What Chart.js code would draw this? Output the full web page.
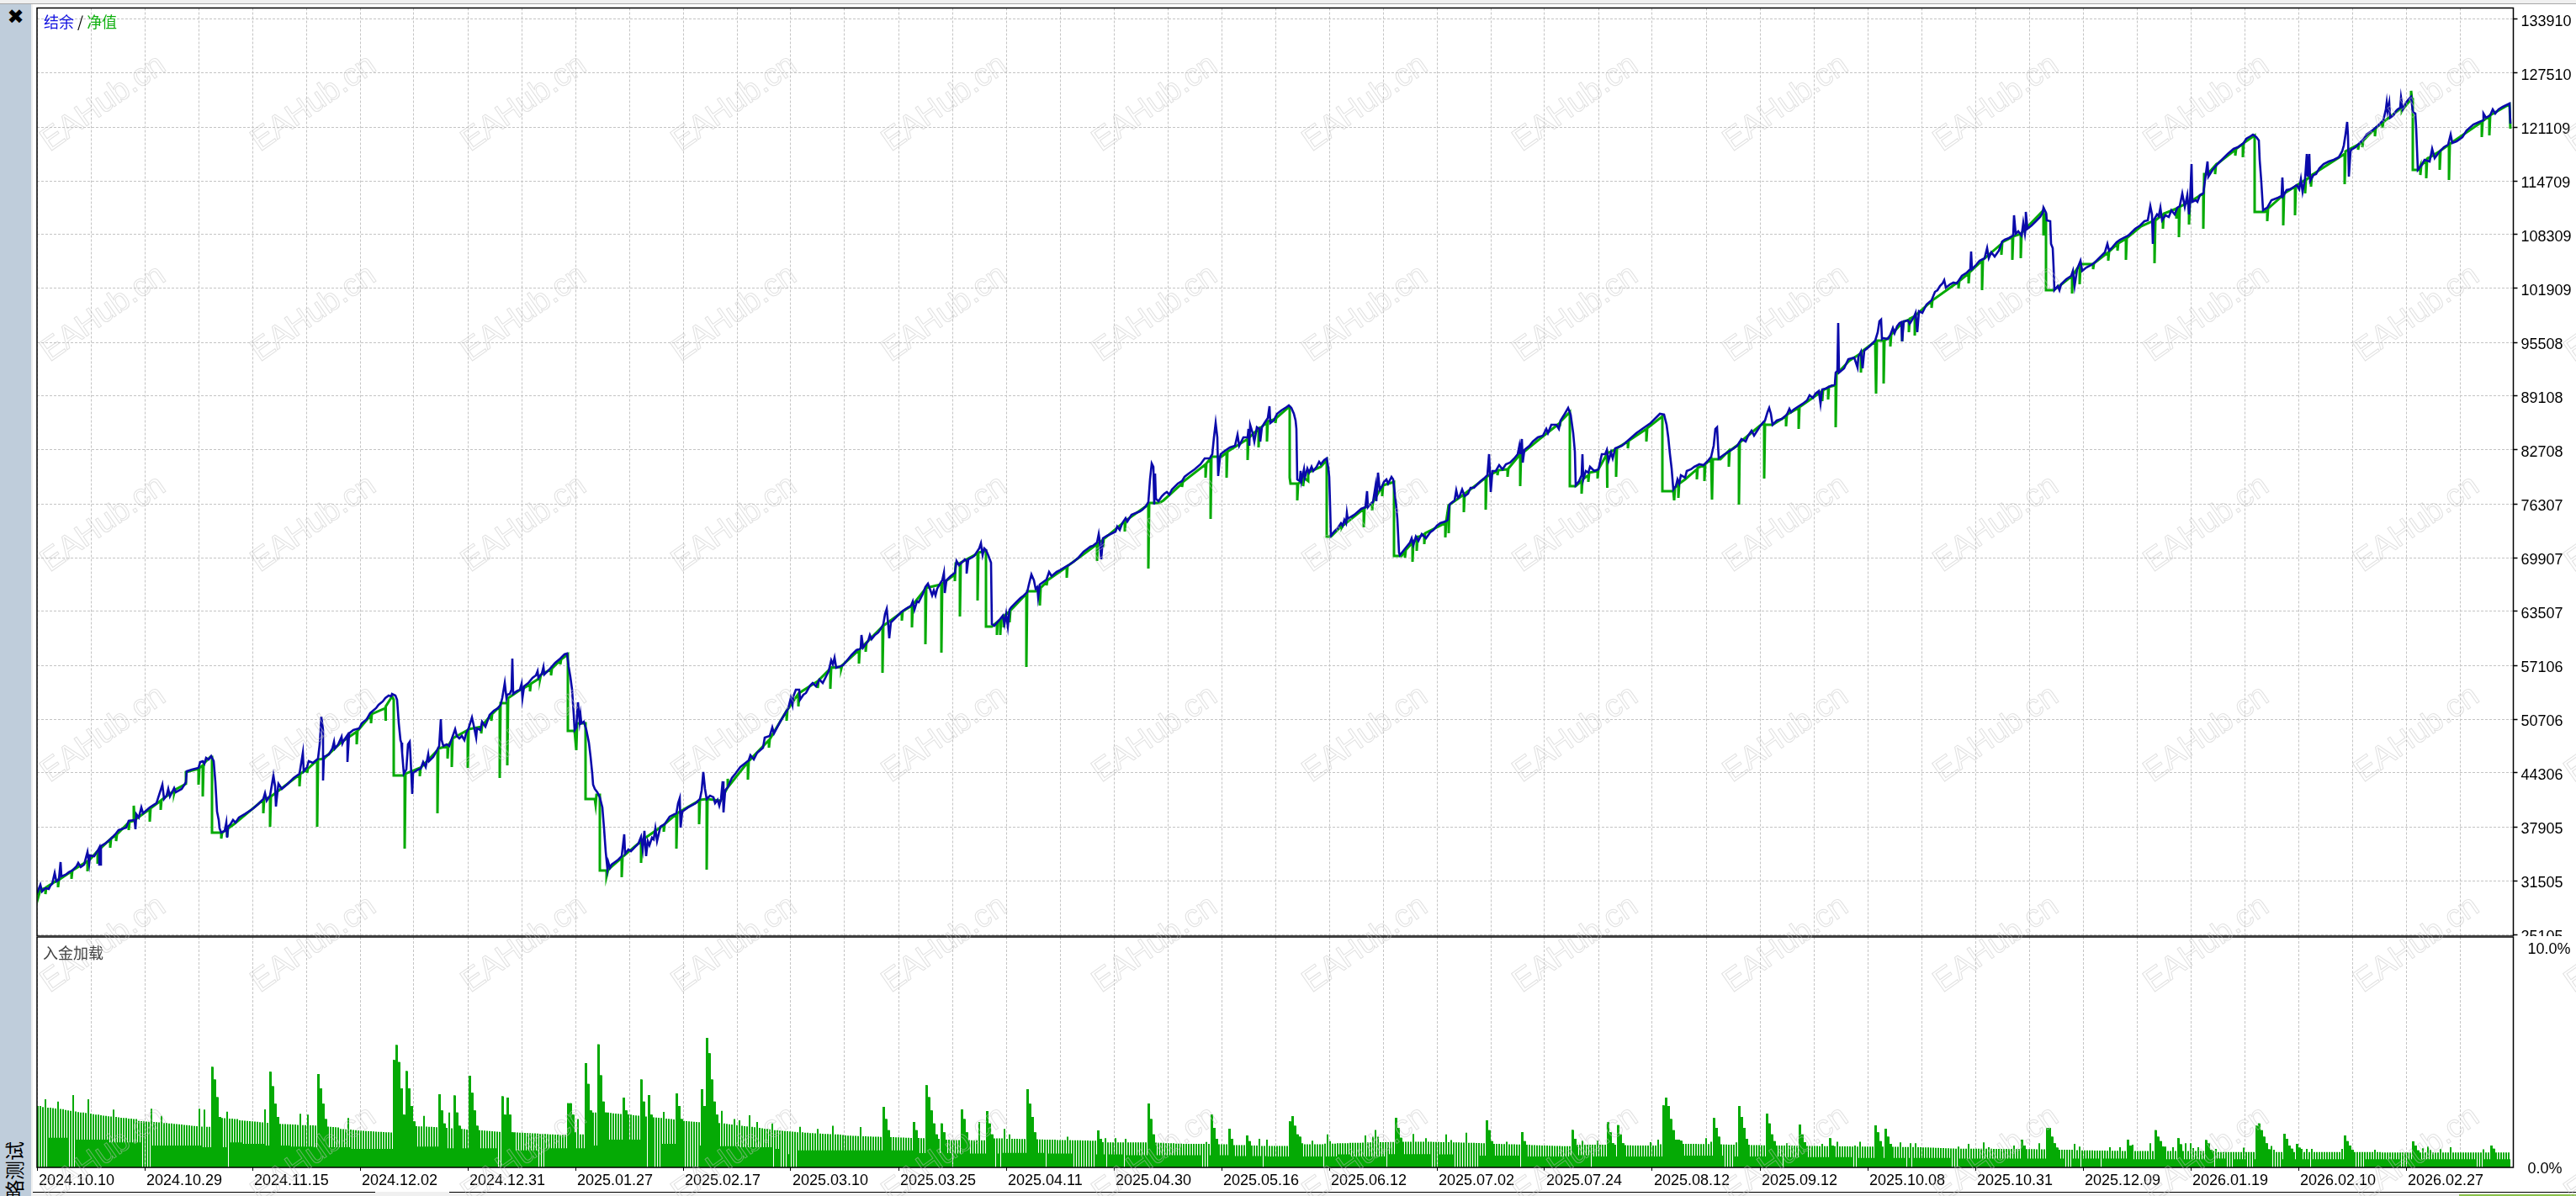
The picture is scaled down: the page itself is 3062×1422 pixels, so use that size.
<!DOCTYPE html>
<html>
<head>
<meta charset="utf-8">
<script src="https://cdn.jsdelivr.net/npm/chart.js@4/dist/chart.umd.min.js"></script>
<style>
html,body{margin:0;padding:0;background:#fff;width:3062px;height:1422px;overflow:hidden}
canvas{position:absolute;left:0}
#mainChart{top:0}
#loadChart{top:1113px}
.chrome{position:absolute;z-index:5}
.label{position:absolute;z-index:6;font:18px "Noto Sans CJK SC";white-space:nowrap;line-height:20px}
</style>
</head>
<body>
<div class="chrome" style="left:0;top:0;width:3062px;height:4px;background:#f0f0f0"></div>
<div class="chrome" style="left:0;top:4px;width:3062px;height:1px;background:#a8a8a8"></div>
<div class="chrome" style="left:0;top:5px;width:37px;height:1417px;background:#bfcddb;overflow:hidden">
  <div style="position:absolute;left:0;top:0;width:37px;text-align:center;font:bold 24px 'DejaVu Sans';line-height:30px">✖</div>
  <div style="position:absolute;left:-44px;top:1395px;width:120px;font:23px 'Noto Sans CJK SC';transform:rotate(-90deg);transform-origin:center;text-align:right;white-space:nowrap">策略测试</div>
</div>
<div class="chrome" style="left:37px;top:5px;width:2px;height:1417px;background:#f0f0f0"></div>
<div class="label" style="left:52px;top:15px"><span style="color:#1010e0">结余</span><span style="color:#000"> / </span><span style="color:#10b010">净值</span></div>
<div class="label" style="left:51px;top:1122px;color:#444">入金加载</div>
<canvas id="mainChart" width="3062" height="1125"></canvas>
<canvas id="loadChart" width="3062" height="309"></canvas>
<script>
// axis labels
const dateLabels = ['2024.10.10','2024.10.29','2024.11.15','2024.12.02','2024.12.31','2025.01.27','2025.02.17','2025.03.10','2025.03.25','2025.04.11','2025.04.30','2025.05.16','2025.06.12','2025.07.02','2025.07.24','2025.08.12','2025.09.12','2025.10.08','2025.10.31','2025.12.09','2026.01.19','2026.02.10','2026.02.27'];
const priceTicks = [133910,127510,121109,114709,108309,101909,95508,89108,82708,76307,69907,63507,57106,50706,44306,37905,31505,25105];
const loadTicks = [0,10];

// balance curve as [deal position, value]
const balancePoints = [
[44,30010],[48,31010],[50,30210],[54,30610],[58,30510],[60,30910],[62,31110],[65,32410],[67,31410],[70,31610],[72,33710],[73,32010],[78,32210],[82,32510],[86,32710],[91,33210],[93,33610],[96,33110],[100,33410],[104,34910],[106,33510],[107,34510],[112,34410],[117,35210],[118,35410],[118,33410],[120,33410],[120,35610],
[125,35910],[132,36510],[137,37010],[141,37510],[150,37810],[153,38610],[160,38710],[161,37610],[162,39410],[165,39010],[168,40210],[170,39510],[178,40210],[186,40710],[193,42910],[195,41210],[198,41610],[200,42410],[202,41510],[207,42510],[209,42010],[216,42410],[221,43210],[222,44510],[228,44710],[236,44910],[238,45610],[241,45710],[243,45410],[245,46110],[248,45910],[251,46310],
[254,45710],[256,43210],[258,39710],[260,38710],[261,37710],[263,37210],[267,37410],[269,38410],[270,36610],[271,37910],[274,38210],[277,38710],[280,38410],[284,39010],[291,39410],[300,40010],[307,40610],[313,41210],[315,41910],[317,41010],[321,41610],[325,44010],[327,42710],[328,40310],[330,42210],[331,43010],[335,42410],[342,43010],[349,43710],[356,44210],[360,46710],[361,44510],[365,45010],[367,45710],[372,45510],[378,46010],[380,47710],[382,50990],[384,49410],[384,43410],[385,46210],[391,46510],[395,47210],[397,48010],[398,47210],[402,47710],[406,48610],[407,47810],[409,48210],[413,48810],[413,45610],[415,49010],[420,49410],[427,49610],[430,50210],[436,50710],[440,51410],[447,52010],[450,52410],[455,52810],[458,53210],[462,53510],[465,53410],[466,53710],[470,53510],[472,53010],[474,50210],[476,48210],[477,47910],[478,46710],[480,44210],[483,44710],[485,47710],[487,48010],[488,46210],[490,41810],[491,44310],[497,44710],[500,44810],[503,45610],[506,45010],[509,46510],[510,45710],[515,46210],[519,46910],[522,47510],[524,50710],[525,48210],[527,47510],[531,47710],[534,47510],[541,49510],[543,48710],[546,48410],[549,48710],[552,48210],[554,49010],[557,49610],[561,50910],[563,50010],[566,48510],[567,49610],[571,49410],[573,50410],[577,49810],[582,51210],[587,51710],[592,52010],[595,52410],[597,53210],[600,55010],[602,53210],[603,53610],[606,53710],[608,54210],[609,57910],[610,53710],[614,54010],[618,54210],[620,54910],[621,53210],[623,54610],[628,55010],[633,55610],[637,55910],[639,56410],[640,55610],[644,56110],[646,56910],[647,56010],[654,56710],[660,57410],[666,57910],[671,58410],[674,58510],[676,56910],[678,55710],[680,54210],[682,51210],[683,49410],[685,49710],[686,51210],[687,52710],[689,50410],[690,51210],[691,50210],[694,50410],[697,49410],[700,47910],[702,46210],[704,44210],[705,42910],[707,42410],[710,42010],[713,41410],[716,40210],[718,37710],[720,34910],[722,32910],[723,33710],[725,33010],[727,33410],[731,33710],[735,34010],[739,34410],[742,37010],[743,34710],[747,35210],[750,35010],[755,35510],[759,35910],
[760,36210],[762,36710],[764,35210],[766,37410],[768,34410],[770,36210],[772,35710],[775,36610],[777,36410],[779,37710],[781,36210],[785,37910],[790,38210],[796,39110],[804,39510],[806,40710],[808,41310],[809,37810],[811,39710],[818,40210],[827,40710],[832,41210],[834,42210],[836,44410],[838,42410],[840,41210],[844,41610],[848,41410],[850,40710],[853,41110],[855,40410],[857,41210],[859,43310],[860,39610],[862,42210],[865,42610],[870,43710],[874,44210],[880,45010],[885,45410],[890,45810],[892,46410],[896,45910],[900,46710],[907,47310],[909,48510],[915,48710],[918,49710],[920,49010],[928,50510],[937,52010],[940,53210],[942,52410],[943,53410],[946,54210],[950,54210],[951,53010],[955,53610],[958,53810],[963,54710],[966,55010],[970,54610],[974,55410],[978,55010],[983,56010],[985,56410],[988,57710],[990,57210],[992,58010],[994,56810],[1002,57110],[1007,57710],[1012,58310],[1018,58910],[1023,59110],[1024,60710],[1026,59210],[1032,60010],[1034,60710],[1036,60210],[1040,60710],[1044,61010],[1048,61610],[1050,62010],[1052,63210],[1054,63810],[1056,61710],[1057,60310],[1059,62210],[1064,62710],[1071,63410],[1075,63710],[1080,64010],[1083,64210],[1085,64710],[1087,63710],[1090,64710],[1092,64610],[1097,65610],[1100,66410],[1103,66810],[1106,66010],[1108,65410],[1110,66010],[1112,65410],[1114,66210],[1118,66910],[1120,67210],[1122,68110],[1123,65710],[1125,67210],[1130,67710],[1135,68110],[1137,69510],[1140,69010],[1144,69410],[1147,69710],[1149,69510],[1149,68010],[1151,69710],[1155,69910],[1158,70110],[1162,70710],[1164,71010],[1166,71610],[1168,70210],[1170,71010],[1172,70810],[1175,70110],[1178,69310],
[1179,62010],[1182,61810],[1188,62510],[1192,63010],[1194,62010],[1196,63210],[1198,61710],[1200,63710],[1202,64010],[1208,64610],[1213,65110],[1217,65410],[1221,65810],[1223,66710],[1226,67910],[1229,67210],[1231,66210],[1233,66410],[1234,65210],[1236,66710],[1240,67010],[1244,67310],[1247,68210],[1250,67710],[1256,68210],[1260,68410],[1265,68710],[1270,69010],[1276,69410],[1282,69910],[1288,70610],[1292,70910],[1296,71210],[1299,71310],[1304,71710],[1306,72710],[1307,72010],[1309,69710],[1311,72210],[1316,72510],[1320,72710],[1326,73010],[1328,73610],[1331,73210],[1334,74010],[1338,74610],[1340,74210],[1345,75010],[1350,75210],[1355,75410],[1358,75610],[1362,76010],[1365,76510],[1367,79210],[1369,81110],[1371,80710],[1372,76210],[1373,79910],[1374,76910],[1377,76610],[1381,77210],[1384,77510],[1387,77710],[1390,77410],[1393,78010],[1400,78710],[1405,79010],[1408,79510],[1413,79910],[1420,80410],[1427,81010],[1432,81710],[1438,81710],[1441,82210],[1443,84210],[1445,85910],[1447,84210],[1448,79610],[1450,81710],[1451,82210],[1456,82610],[1462,83010],[1468,83210],[1471,84510],[1473,83210],[1478,84210],[1483,84210],[1484,85210],[1485,83210],[1486,85710],[1489,84710],[1491,83710],[1494,85410],[1497,85210],[1498,83710],[1500,85410],[1503,85910],[1507,86510],[1509,87910],[1510,85910],[1514,86210],[1518,87010],[1523,87410],[1528,87710],[1532,88010],[1535,87710],[1538,87010],[1540,86210],[1541,85210],[1542,79210],[1545,79010],[1546,80210],[1547,79010],[1550,80410],[1551,79410],[1554,80510],[1556,80010],[1559,80710],[1561,80210],[1565,80710],[1568,81310],[1570,81010],[1574,81510],[1577,81710],[1579,80510],[1580,79510],[1581,76210],[1582,72510],[1586,73010],[1590,73410],[1594,74010],[1596,73710],[1598,74410],[1600,74010],[1601,75210],[1602,74510],[1610,75010],[1618,75710],[1623,75910],[1625,77810],[1626,75910],[1630,76410],[1632,76510],[1635,78410],[1636,76610],[1638,80010],[1640,78010],[1643,78410],[1645,78910],[1648,79210],[1650,78710],[1654,79510],[1656,79210],[1658,77510],[1660,75710],[1661,74510],[1663,70510],[1664,70210],[1668,70710],[1672,71210],[1676,71710],[1678,72210],[1680,71410],[1683,72410],[1686,71910],[1690,72710],[1695,72210],[1700,72910],[1704,73210],[1708,73710],[1712,74010],[1718,74210],[1721,74410],[1723,76210],[1725,76410],[1729,76710],[1731,77910],[1733,77010],[1735,77210],[1738,78010],[1741,77210],[1745,77510],[1748,78210],[1752,78210],[1756,78610],[1760,79010],[1765,79410],[1768,79710],[1770,82210],[1771,80010],[1772,77710],[1774,80210],[1778,80210],[1782,80910],[1786,80410],[1790,81010],[1795,81210],[1800,81710],[1804,82210],[1806,83210],[1807,82210],[1809,84010],[1810,81210],[1812,82710],[1818,83210],[1822,83710],[1828,84210],[1834,84410],[1838,85210],[1840,84710],[1844,85710],[1850,85710],[1853,85210],[1855,86210],[1860,87010],[1864,87710],[1867,86910],[1870,84710],[1872,82510],[1873,78510],
[1877,79010],[1880,79710],[1881,82210],[1882,79210],[1885,80210],[1888,80010],[1890,80710],[1895,80210],[1900,80410],[1904,82210],[1908,82210],[1910,82710],[1912,81410],[1915,82410],[1917,81710],[1920,82910],[1928,83210],[1936,83910],[1945,84710],[1952,85210],[1962,85910],[1968,86510],[1973,87010],[1978,86910],[1981,85710],[1983,84210],[1985,82210],[1987,80510],[1989,78010],[1992,78410],[1994,79210],[1996,78710],[1998,79710],[2003,79410],[2005,80210],[2010,80410],[2014,80710],[2018,80910],[2020,81010],[2025,80910],[2030,81410],[2034,81910],[2037,83210],[2039,85210],[2041,85410],[2043,81710],[2050,82210],[2058,82710],[2065,83210],[2070,84010],[2075,83710],[2078,84410],[2082,85010],[2085,84410],[2092,85510],[2096,86010],[2098,86210],[2101,87210],[2103,87710],[2105,87010],[2107,85710],[2112,86210],[2118,86410],[2124,86910],[2127,87610],[2129,87210],[2132,87510],[2138,87910],[2143,88210],[2148,88610],[2151,89210],[2155,88910],[2158,89410],[2162,89710],[2164,88210],[2166,89910],[2170,90010],[2176,90310],[2181,90510],[2182,91910],[2184,92110],[2185,97810],[2186,91910],[2192,92410],[2197,93510],[2204,93710],[2208,92510],[2209,93810],[2212,94410],[2214,92410],[2216,94510],[2222,95010],[2229,95710],[2232,96710],[2234,98010],[2236,98210],[2237,95910],[2238,96010],[2244,95910],[2247,96410],[2250,97210],[2252,96610],[2255,97410],[2258,97810],[2260,97910],[2261,95610],[2263,98010],[2268,98110],[2270,97710],[2275,98510],[2277,99010],[2279,96710],[2281,99210],[2285,99010],[2290,100010],[2296,100510],[2300,101510],[2303,101710],[2306,102210],[2309,102510],[2311,102910],[2313,102010],[2318,102410],[2322,102610],[2326,102510],[2332,103410],[2338,103810],[2342,104210],[2343,106310],[2344,104210],[2348,104610],[2353,105210],[2359,105510],[2362,106710],[2364,105510],[2367,106210],[2371,105710],[2376,106410],[2380,107510],[2383,107710],[2388,107910],[2393,108210],[2394,110610],[2396,108410],[2399,108710],[2403,108210],[2405,109710],[2407,108410],[2408,109210],[2408,111010],[2410,109010],[2415,109410],[2420,109910],[2425,110410],[2428,110910],[2429,111510],[2432,110910],[2433,110010],[2437,109910],[2438,107210],[2440,106710],[2441,104510],[2442,101710],[2446,102210],[2448,101710],[2450,102410],[2456,103010],[2462,103410],[2464,104010],[2466,102210],[2469,104210],[2473,105210],[2475,104010],[2480,104410],[2486,104710],[2490,105010],[2497,105710],[2502,106210],[2505,107210],[2507,106410],[2510,106710],[2516,107410],[2520,107710],[2530,108210],[2538,109010],[2544,109410],[2549,109910],[2553,110010],[2556,111710],[2558,110710],[2559,107210],[2560,110010],[2564,110710],[2566,110510],[2568,111510],[2570,110010],[2574,110610],[2578,110410],[2581,111210],[2585,110710],[2588,111510],[2591,111710],[2594,113210],[2597,111610],[2600,113010],[2602,110710],[2603,111910],[2605,116710],[2606,112210],[2610,112410],[2612,112210],[2615,113010],[2619,113210],[2622,115510],[2624,117010],[2625,115210],[2630,116010],[2636,116710],[2641,117210],[2648,117910],[2655,118510],[2660,118710],[2667,119210],[2670,119710],[2675,120010],[2678,120210],[2682,119910],[2685,119510],[2686,117210],[2688,114510],[2690,111210],[2695,111510],[2700,112410],[2708,112710],[2712,112910],[2713,115110],[2714,112910],[2718,113610],[2722,113710],[2727,114010],[2730,114210],[2733,113710],[2735,114910],[2737,113410],[2740,115010],[2742,117910],[2743,115210],[2745,117910],[2746,114710],[2750,115410],[2753,115510],[2757,116210],[2762,116710],[2768,117010],[2774,117210],[2780,117510],[2784,118210],[2786,118910],[2788,120210],[2790,121710],[2791,120010],[2792,115210],[2794,118210],[2795,118410],[2800,118710],[2805,119210],[2810,119710],[2813,120210],[2820,120710],[2826,121210],[2833,121910],[2836,123210],[2837,124010],[2838,123010],[2840,124010],[2841,122210],[2845,122510],[2848,123010],[2850,123210],[2853,123410],[2854,124610],[2856,123210],[2860,124010],[2863,124410],[2866,124710],[2868,122910],[2871,122710],[2872,121010],[2874,116010],[2878,116510],[2882,117210],[2888,117010],[2891,118510],[2894,117410],[2900,118210],[2905,118710],[2910,119010],[2913,120210],[2915,119210],[2920,119410],[2927,119910],[2932,120710],[2940,121410],[2947,121710],[2952,121910],[2952,122710],[2955,122210],[2960,122510],[2963,123210],[2966,122710],[2970,123210],[2975,123510],[2983,123910],[2984,121510]
];

// equity curve, mostly on the balance line with its drops below it
const equityPoints = [
[44,29810],[46,30210],[46,29710],[48,30410],[54,30610],[54,29910],[55,30710],[69,31610],[69,30710],[70,31610],[85,32610],[85,31710],[86,32710],[104,33810],[104,32610],[105,33810],[116,35010],[116,33510],[117,35110],[131,36410],[131,35410],[132,36510],[138,36910],[138,36210],[139,37010],[153,38410],[153,37510],[154,38510],[159,38610],[159,40410],[160,38710],[178,40010],[178,38510],[179,40110],[191,41010],[191,39910],[192,41110],[207,42210],[207,41910],[208,42310],[221,43010],[221,44410],[236,44810],[236,42910],[237,44910],[241,45210],[241,41510],[242,45410],[250,46210],[252,46210],[252,37210],[262,37210],[263,37210],[263,36510],[264,37210],[270,37610],[270,36710],[271,37710],[278,38210],[313,41110],[313,39510],[314,41210],[321,41410],[321,37910],[322,41510],[356,44110],[356,42710],[357,44210],[365,44710],[365,44310],[366,44810],[377,45810],[377,37910],[378,45910],[385,46010],[405,47900],[424,49210],[424,47710],[425,49310],[441,51210],[441,50210],[442,51310],[458,52010],[458,50510],[459,52210],[466,53410],[468,53010],[468,44010],[481,44010],[481,35310],[482,44210],[499,44910],[499,43910],[500,44910],[520,47010],[520,39510],[521,47210],[532,47510],[532,46010],[533,47610],[537,48210],[537,45010],[538,48410],[556,49410],[556,44910],[557,49510],[572,49810],[572,49010],[573,49910],[584,51210],[584,50510],[585,51310],[594,52210],[594,43710],[595,52610],[603,52610],[603,45210],[604,53210],[618,54150],[630,54810],[630,54010],[631,54910],[642,55610],[642,55510],[643,56000],[655,56610],[655,55910],[656,56710],[666,57710],[666,57210],[667,57800],[675,58410],[675,49310],[683,49310],[685,47010],[686,50210],[696,50210],[696,41210],[707,41210],[708,40510],[709,41710],[713,41710],[713,32710],[721,32710],[721,32010],[723,32810],[739,34210],[739,31910],[740,34310],
[762,36210],[762,33610],[763,36310],[789,38110],[789,37310],[790,38210],[804,39410],[804,35310],[805,39510],[831,41010],[831,38210],[832,41110],[840,41210],[840,32810],[841,41210],[856,41010],[856,40910],[865,42610],[865,43610],[866,42710],[889,45610],[889,43510],[890,45710],[914,48210],[914,47310],[915,48310],[935,51710],[935,50510],[936,51810],[949,53710],[949,52210],[950,53810],[972,55210],[972,54410],[973,55310],[987,56710],[987,54310],[988,56810],[1000,56910],[1000,56710],[1001,57100],[1021,58910],[1021,57310],[1022,59010],[1029,59710],[1029,58710],[1030,59810],[1049,61710],[1049,56210],[1050,61810],[1072,63410],[1072,62410],[1073,63510],[1084,64210],[1084,61610],[1085,64310],[1100,66210],[1100,59610],[1101,66310],[1118,66710],[1119,66710],[1119,58610],[1120,66810],[1135,67910],[1135,67110],[1136,69210],[1141,69210],[1141,62910],[1142,69310],[1162,70410],[1162,64810],[1163,70510],[1172,70710],[1172,61710],[1179,61710],[1185,62210],[1185,60710],[1186,62310],[1189,62510],[1189,60710],[1190,62610],[1193,62910],[1193,61610],[1194,63010],[1200,63510],[1200,62210],[1201,63610],[1220,65610],[1220,56910],[1221,65910],[1231,65910],[1236,66210],[1236,64210],[1237,66310],[1244,67010],[1244,66610],[1245,67210],[1268,68810],[1268,67510],[1269,68910],[1304,71510],[1304,69510],[1305,71610],[1311,72010],[1311,71110],[1312,72110],[1337,74210],[1337,73010],[1338,74310],[1365,76210],[1365,68610],[1366,76410],[1378,76410],[1383,76710],
[1405,78710],[1405,78310],[1406,78900],[1433,81010],[1433,79410],[1434,81110],[1439,81710],[1439,74510],[1440,81910],[1452,81910],[1458,82410],[1458,79410],[1459,82510],[1483,84010],[1483,81510],[1484,84110],[1496,85210],[1496,83010],[1497,85210],[1506,86010],[1506,83710],[1507,86110],[1516,86410],[1516,85910],[1517,86500],[1532,87810],[1533,87810],[1533,79410],[1534,78710],[1542,78710],[1542,76710],[1543,78710],[1549,79010],[1549,78410],[1550,79400],[1555,79010],[1555,80010],[1570,80710],[1577,81510],[1577,72410],[1582,72410],[1595,73710],[1595,73510],[1596,73700],[1621,75710],[1621,73510],[1622,75810],[1631,76410],[1631,75510],[1632,76510],[1643,78410],[1643,77210],[1644,78510],[1657,78910],[1657,70110],[1666,70110],[1670,70710],[1670,69910],[1671,70810],[1679,71710],[1679,69410],[1680,71710],[1684,72210],[1684,70710],[1685,72300],[1693,72710],[1693,71510],[1694,72810],[1718,74010],[1718,72310],[1719,74210],[1722,76210],[1722,72810],[1723,76210],[1740,77410],[1740,75310],[1741,77510],[1766,79410],[1766,75610],[1767,79510],[1780,80210],[1780,79710],[1781,80300],[1792,80410],[1792,79510],[1793,80510],[1807,82210],[1807,78410],[1808,82210],[1830,84000],[1854,85910],[1854,85510],[1855,86100],[1866,87210],[1866,78410],[1873,78410],[1880,79010],[1880,77510],[1881,79210],[1888,79710],[1888,78910],[1889,80000],[1899,80210],[1899,79310],[1900,80410],[1910,82210],[1910,78210],[1911,82310],[1921,82810],[1921,79510],[1922,82910],[1935,83710],[1935,82910],[1936,83810],[1957,85210],[1957,83710],[1958,85310],[1976,86710],[1976,77810],[1989,77810],[1990,78010],[1990,76710],[1991,78210],[1995,78710],[1995,77010],[1996,78700],[2003,79210],[2017,80410],[2017,79210],[2018,80610],[2026,80910],[2026,79010],[2027,81010],[2034,81610],[2035,76810],[2036,81610],[2045,81610],[2055,82610],[2055,80710],[2056,82610],[2067,83410],[2067,76210],[2068,83610],[2097,86010],[2097,79310],[2098,85710],[2107,85710],[2123,86710],[2123,85510],[2124,86910],[2138,87710],[2138,85210],[2139,87810],[2166,89710],[2166,88510],[2167,89810],[2173,90110],[2173,88710],[2174,90210],[2182,90410],[2182,85410],[2183,91710],[2198,93300],[2212,94210],[2212,91910],[2213,94410],[2229,95610],[2230,89410],[2231,95710],[2239,95710],[2239,90610],[2240,95710],[2247,96210],[2247,95010],[2248,96410],[2261,97810],[2261,95610],[2262,97910],[2269,98210],[2269,96710],[2270,98310],[2276,98610],[2276,96310],[2277,98710],[2296,100410],[2296,99610],[2297,100500],[2328,102710],[2328,101910],[2329,102810],[2340,103710],[2340,102510],[2341,103810],[2356,105210],[2356,101710],[2357,105310],[2379,107210],[2379,105910],[2380,107410],[2392,108010],[2392,105310],[2393,108110],[2402,108410],[2402,105510],[2403,108510],[2429,111210],[2429,108210],[2431,110710],[2432,110710],[2432,101710],[2441,101710],[2448,102210],[2463,103410],[2463,101310],[2464,103510],[2472,104710],[2472,102410],[2473,104810],[2488,104810],[2488,104210],[2489,104900],[2506,106210],[2506,105210],[2507,106300],[2517,107210],[2517,106410],[2518,107300],[2527,107810],[2527,105310],[2528,107910],[2545,109300],[2561,110010],[2561,104910],[2562,110010],[2571,110710],[2571,109010],[2572,110810],[2587,111410],[2587,110210],[2588,111400],[2590,111510],[2590,108010],[2591,111610],[2602,112210],[2602,109510],[2603,112210],[2619,113210],[2619,109010],[2620,115510],[2624,115510],[2633,116510],[2633,115510],[2634,116600],[2657,118410],[2657,117710],[2658,118500],[2666,119110],[2666,117510],[2667,119210],[2680,120110],[2680,111010],[2692,111010],[2695,111210],[2695,109910],[2696,111410],[2714,113010],[2714,109410],[2715,113210],[2728,114010],[2728,110610],[2729,114110],[2740,114810],[2740,113210],[2741,114810],[2747,115310],[2747,114010],[2748,115410],[2787,117910],[2787,114310],[2788,118210],[2803,119010],[2803,118410],[2804,119050],[2808,119410],[2808,118710],[2809,119500],[2823,120910],[2823,120010],[2824,121000],[2832,121610],[2832,121010],[2833,121700],[2855,123410],[2855,123010],[2856,123200],[2866,124410],[2866,125410],[2867,124410],[2868,124410],[2868,116010],[2875,116010],[2877,116510],[2877,115410],[2878,116510],[2884,117210],[2884,115010],[2885,117310],[2900,118210],[2900,116010],[2901,118310],[2911,119010],[2911,114810],[2912,119110],[2950,121710],[2950,119910],[2951,121810],[2959,122410],[2959,120110],[2960,122510],[2983,123810],[2984,120910]
];

// deposit load per bar, tops of the comb including the spikes
const loadValues = [
2.8,2.8,2.75,3.1,2.72,2.72,2.7,2.68,3.0,2.66,2.65,2.62,2.6,2.58,3.3,2.55,2.52,2.5,2.5,2.48,3.1,2.45,2.42,2.4,2.4,2.38,2.36,2.35,2.33,2.32,2.63,2.3,2.28,2.26,2.25,2.25,2.22,2.22,2.2,2.2,
2.12,2.11,2.1,2.09,2.08,2.67,2.07,2.06,2.05,2.35,2.03,2.02,2,2,1.98,1.97,1.96,1.95,1.94,1.93,1.92,1.9,1.89,1.88,2.67,1.86,2.63,1.85,1.85,4.58,4.0,3.2,2.3,2.25,2.24,2.54,2.22,2.22,2.2,2.2,
2.15,2.14,2.13,2.12,2.11,2.1,2.09,2.08,2.06,2.05,2.64,2.03,4.36,3.7,2.9,2.3,1.98,1.97,1.97,1.96,1.96,1.95,1.95,1.94,2.44,1.93,1.93,2.4,1.92,1.92,1.91,4.25,3.6,2.9,2.2,1.86,1.85,1.84,1.83,1.82,
1.75,1.74,1.73,2.25,1.72,1.71,1.7,1.69,1.68,1.67,1.66,1.65,1.65,1.64,1.63,1.62,1.62,1.61,1.6,1.6,1.59,4.9,5.58,4.8,3.6,2.4,4.39,3.6,2.8,2.1,1.88,1.87,1.87,2.35,1.86,1.85,1.85,1.84,1.83,3.33,
2.6,2,1.8,2.5,1.78,3.28,2.5,1.9,1.75,1.74,1.72,4.18,3.4,2.6,1.9,1.7,1.69,1.68,1.67,1.66,1.65,1.64,1.63,1.62,3.24,2.4,3.18,2.4,1.6,1.6,1.59,1.58,1.58,1.57,1.56,1.56,1.55,1.55,1.54,1.53,
1.52,1.52,1.51,1.5,1.5,1.49,1.49,1.48,1.48,1.48,2.92,2.92,2.4,1.6,2.2,1.5,1.5,4.75,3.8,2.6,2.5,2.5,5.6,4.2,3.0,2.5,2.5,2.48,2.46,2.45,2.44,2.43,3.18,2.6,2.41,2.4,2.38,2.37,2.36,4.0,
3.0,2.32,3.3,2.4,2.28,2.27,2.26,2.25,2.53,2.22,2.21,2.2,2.18,3.37,2.8,2.2,2.12,2.11,2.1,2.09,2.08,2.07,2.06,3.56,2.8,5.9,5.2,4.0,3.0,2.4,2.02,2.58,2,1.98,1.96,1.95,2.2,1.93,2.15,1.9,
1.88,1.87,2.38,1.85,1.83,2.07,1.8,1.78,1.76,1.75,1.73,2,1.7,1.7,1.68,1.67,1.66,1.65,1.64,1.63,1.62,1.6,1.85,1.6,1.58,1.58,1.56,1.56,1.55,1.75,1.54,1.53,1.52,1.52,1.51,1.9,1.5,1.5,1.49,1.48,
1.46,1.45,1.45,1.44,1.44,1.43,1.84,1.42,1.42,1.41,1.41,1.4,1.4,1.4,1.39,2.76,2.2,1.7,1.38,1.38,1.37,1.37,1.36,1.36,1.35,1.35,1.34,2.07,1.7,1.34,1.33,1.33,3.75,3.2,2.6,2,1.5,1.3,2,1.6,
1.26,1.26,1.25,1.25,1.25,1.25,2.64,2.2,1.6,1.25,1.24,1.24,1.24,2.07,1.24,1.24,2.57,2,1.5,1.32,1.32,1.32,1.32,1.75,1.3,1.5,1.3,1.3,1.3,1.29,1.29,1.29,3.56,2.9,2.3,1.6,1.28,1.27,1.27,1.26,
1.26,1.26,1.26,1.26,1.25,1.25,1.25,1.25,1.4,1.25,1.24,1.24,1.24,1.24,1.23,1.23,1.23,1.22,1.22,1.22,1.69,1.3,1.15,1.33,1.14,1.14,1.14,1.33,1.14,1.14,1.14,1.3,1.14,1.14,1.14,1.14,1.14,1.14,1.14,1.14,
2.91,2.2,1.5,1.13,1.12,1.12,1.12,1.1,1.1,1.1,1.1,1.08,1.08,1.08,1.07,1.07,1.07,1.07,1.07,1.07,1.07,1.07,1.07,1.16,1.07,2.41,1.8,1.3,1.05,1.05,1.05,1.05,1.76,1.3,1.02,1.02,1.02,1.02,1.02,1.46,
1.2,1,1,1,1.3,.98,.98,1.26,.98,.98,.98,.98,.98,.98,.98,.98,2.1,2.34,1.9,1.5,1.4,1.1,1.05,1.05,1.05,1.22,1.05,1.05,1.05,1.05,1.08,1.5,1.2,1.08,1.08,1.1,1.1,1.1,1.1,1.1,
1.12,1.12,1.12,1.12,1.12,1.13,1.46,1.14,1.14,1.4,1.71,1.4,1.15,1.15,1.15,1.15,1.16,1.16,2.26,1.8,1.35,1.17,1.17,1.17,1.17,1.52,1.17,1.17,1.17,1.17,1.33,1.17,1.17,1.16,1.16,1.16,1.15,1.15,1.5,1.15,
1.25,1.14,1.14,1.14,1.13,1.13,1.58,1.12,1.12,1.12,1.11,1.11,1.1,1.1,2.15,1.7,1.2,1.07,1.07,1.07,1.06,1.06,1.17,1.05,1.05,1.05,1.04,1.04,1.61,1.2,1.03,1.03,1.02,1.02,1.01,1.01,1,1,1,.99,
.99,.98,.98,.98,.97,.97,.97,.97,1.71,1.3,1.03,1.03,1.22,1.03,1.03,1.03,1.03,1.03,1.22,1.03,1.03,1.03,2.07,1.6,1.1,1.03,1.93,1.5,1.1,1.02,1.01,1.01,1,1,1,1,1,1,1,1.15,
1,1,1.26,1.05,2.83,3.18,2.8,2.2,1.7,1.26,1.26,1.22,1.07,1.07,1.07,1.07,1.07,1.07,1.06,1.06,1.06,1.33,1.06,1.17,2.25,1.8,1.4,1.05,1.04,1.04,1.03,1.03,1.03,1.14,2.8,2.3,1.8,1.3,1.03,1.02,
1.02,1.02,1.02,1.01,1.01,2.45,2,1.5,1.2,1,1,1,1,1.1,1,1,.99,.99,1.95,1.5,1.15,.98,.98,.98,.98,.98,.97,1.07,.97,.97,1.33,1,.97,1.17,.96,.96,.96,.96,.96,.95,
1,.95,1.17,.95,.95,.95,.95,.95,1.92,1.6,1.2,.95,1.76,1.4,1.07,.94,.94,.94,1.14,.93,.93,.93,1.1,.93,1.1,.92,.92,.91,.91,.91,.9,.9,.89,.89,.88,.88,.87,.87,.86,.86,
.85,.95,.85,.85,.85,1.07,.85,.85,.85,.85,.85,1.14,.85,.92,.85,.84,.84,.84,.84,.84,.84,.84,.84,1,.84,.84,1.26,1,.83,.83,.83,.83,.82,1.1,.82,.82,1.8,1.8,1.4,1.1,
.9,.8,.8,.8,.8,.8,.8,1.07,.79,.95,.78,.78,.78,.78,.78,.77,.77,.77,.77,.77,.76,.92,.76,.76,.76,.92,.75,.75,1.26,1,1.03,.75,.75,.75,.75,.75,.75,1.1,.75,1.7,
1.4,1.2,.95,.95,.75,.75,.92,.75,1.33,1.05,.75,1.1,.75,1.1,.88,.75,.92,.75,.75,1.25,1.1,.8,.75,.84,.7,.7,.7,.7,.7,.7,.7,.7,.7,.7,.9,.7,.7,.7,.7,1.9,
2,1.7,1.4,1.1,.82,.98,.8,.7,.7,.7,1.53,1.3,1,.85,.7,1.07,.9,.84,.7,.84,.7,.84,.7,.7,.7,.7,.7,.7,.7,.7,.7,.7,.7,.84,1.46,1.2,1,.8,.7,.7,
.7,.7,.7,.7,.7,.7,.8,.7,.7,.68,.68,.68,.68,.68,.68,.68,.68,.68,.68,.68,.68,1.19,1,.78,.68,.87,.68,.95,.8,.68,.68,.68,.84,.68,.68,.68,.92,.68,.68,.68,
.68,.68,.68,.68,.68,.68,.68,.68,.68,.82,.68,.68,1,.85,.68,.68,.68,.68,.68,.68
];

// solid lower band of the load histogram: value holds up to and including the bar in baseEnd
const baseEnd = [3,11,14,27,40,44,64,74,75,80,89,99,108,123,140,159,160,162,181,183,197,200,218,224,225,240,246,255,261,268,269,277,290,291,293,296,297,300,346,347,361,362,378,379,380,381,398,399,409,418,422,423,429,430,460,463,471,484,485,486,508,509,514,519,533,534,551,554,560,561,570,586,587,606,614,615,647,648,667,671,690,691,710,711,718,720,739,740,741,742,757,760,802,805,808,809,816,817,828,829,861,862,866,869,874,877,884,888,899,900,916,918,921,935,936,938,965,968,979];
const baseValue = [0,1.35,0,1.26,1.14,0,1,.92,0,1.14,1.07,1,.95,.92,.84,.95,0,.87,.87,0,.78,0,.87,1,0,1.26,0,1.07,0,1,0,.97,.92,0,.84,0,.6,0,.78,0,.65,0,.63,0,.63,0,.66,0,.63,0,.59,0,.59,0,.56,0,.56,.52,0,.52,.5,0,.5,.59,.5,0,.6,0,.59,0,0,.54,0,.5,.56,0,.5,0,.54,0,.5,0,.47,0,.47,0,.43,0,.43,0,.43,0,.4,0,.4,0,.4,0,.4,0,.37,0,.4,0,.37,0,.37,0,.37,0,.37,0,0,.37,0,0,.37,0,.37];
// bars where a spike fills the gaps of the comb
const spikeStart = [69,92,111,141,159,165,171,184,210,217,222,232,239,242,253,263,335,347,352,358,366,376,392,420,440,465,472,479,496,538,574,588,608,622,626,644,664,674,685,698,710,728,732,786,796,828,839,848,859,879,890,895,914,941,972];
const spikeEnd = [72,95,114,149,161,167,174,188,212,219,225,233,240,243,255,269,337,348,356,359,368,378,395,421,442,467,473,480,500,540,576,589,609,624,628,651,666,677,688,700,711,730,734,787,800,829,842,849,861,884,893,896,917,943,973];

const GREEN = '#05aa05', BLUE = '#0a0aaa', GRID = '#c4c4c4';
const AXIS_LEFT = 44, AXIS_RIGHT = 2987.5, BAR_STEP = 3, GRID_STEP = 64;

const gridTicks = [];
for (let v = AXIS_LEFT; v < AXIS_RIGHT - 10; v += GRID_STEP) gridTicks.push({value: v});

const baseValues = loadValues.map((v, i) => {
    const run = baseEnd.findIndex(e => i <= e);
    const inSpike = spikeStart.some((s, k) => i >= s && i <= spikeEnd[k]);
    return inSpike ? v : (run < 0 ? 0 : baseValue[run]);
});

// page-wide watermark, outlined text on a 250px grid
function drawWatermark(chart, offsetY) {
    const ctx = chart.ctx;
    ctx.save();
    ctx.font = '38px "Liberation Sans"';
    ctx.strokeStyle = 'rgba(195,195,195,0.5)';
    ctx.lineWidth = 1;
    ctx.textAlign = 'center';
    ctx.textBaseline = 'middle';
    for (let cx = 123; cx < 3200; cx += 250) {
        for (let cy = 123; cy < 1500; cy += 250) {
            ctx.save();
            ctx.translate(cx, cy - offsetY);
            ctx.rotate(-35 * Math.PI / 180);
            ctx.strokeText('EAHub.cn', 0, 0);
            ctx.restore();
        }
    }
    ctx.restore();
}

function frame(chart) {
    const {ctx, chartArea: a} = chart;
    ctx.save();
    ctx.strokeStyle = '#000';
    ctx.lineWidth = 1.5;
    ctx.strokeRect(a.left, a.top, a.right - a.left, a.bottom - a.top);
    ctx.restore();
}

function fixY(scale) { scale.width = 3062 - AXIS_RIGHT; scale.paddingTop = 0; scale.paddingBottom = 0; }

new Chart(document.getElementById('mainChart'), {
    type: 'line',
    data: {
        datasets: [
            {label: '净值', data: equityPoints, borderColor: GREEN, borderWidth: 3, pointRadius: 0, tension: 0, order: 2},
            {label: '结余', data: balancePoints, borderColor: BLUE, borderWidth: 2.6, pointRadius: 0, tension: 0, order: 1}
        ]
    },
    options: {
        responsive: false, animation: false, devicePixelRatio: 1, events: [],
        layout: {padding: {left: AXIS_LEFT, top: 9.5, bottom: 12, right: 0}},
        plugins: {legend: {display: false}, tooltip: {enabled: false}},
        scales: {
            x: {
                type: 'linear', min: AXIS_LEFT, max: AXIS_RIGHT,
                ticks: {display: false},
                grid: {color: GRID, drawTicks: false},
                border: {display: false, dash: [3, 2]},
                afterBuildTicks: s => { s.ticks = gridTicks.map(t => ({...t})); },
                afterFit: s => { s.height = 0; s.paddingLeft = 0; s.paddingRight = 0; }
            },
            y: {
                position: 'right', min: 24905, max: 135260,
                afterBuildTicks: s => { s.ticks = priceTicks.map(v => ({value: v})); },
                afterFit: fixY,
                ticks: {autoSkip: false, padding: 4, labelOffset: 3, color: '#000', font: {family: '"Liberation Sans"', size: 18}, callback: v => String(v)},
                grid: {color: GRID, tickColor: '#000', tickLength: 5, tickBorderDash: [], tickWidth: 1.5},
                border: {display: false, dash: [3, 2]}
            }
        }
    },
    plugins: [{id: 'deco', afterDraw(c) { frame(c); drawWatermark(c, 0); }}]
});

new Chart(document.getElementById('loadChart'), {
    type: 'bar',
    data: {
        datasets: [
            {label: 'comb', data: loadValues.map((v, i) => ({x: AXIS_LEFT + BAR_STEP * i + 1, y: v})), backgroundColor: GREEN, barThickness: 2, inflateAmount: 0, grouped: false},
            {label: 'base', data: baseValues.map((v, i) => ({x: AXIS_LEFT + BAR_STEP * i + 1.5, y: v})), backgroundColor: GREEN, barThickness: 3, inflateAmount: 0, grouped: false}
        ]
    },
    options: {
        responsive: false, animation: false, devicePixelRatio: 1, events: [],
        layout: {padding: {left: AXIS_LEFT, top: 1, bottom: 0, right: 0}},
        plugins: {legend: {display: false}, tooltip: {enabled: false}},
        scales: {
            x: {
                type: 'linear', min: AXIS_LEFT, max: AXIS_RIGHT, offset: false,
                afterBuildTicks: s => { s.ticks = gridTicks.map(t => ({...t})); },
                afterFit: s => { s.height = 34; s.paddingLeft = 0; s.paddingRight = 0; },
                ticks: {
                    autoSkip: false, maxRotation: 0, align: 'start', padding: 1, labelOffset: 2, color: '#000',
                    font: {family: '"Liberation Sans"', size: 18},
                    callback: (v, i) => i % 2 === 0 ? (dateLabels[i / 2] || '') : ''
                },
                grid: {offset: false, color: GRID, tickLength: 4, tickBorderDash: [], tickColor: c => c.index % 2 === 0 ? '#000' : 'rgba(0,0,0,0)'},
                border: {display: false, dash: [3, 2]}
            },
            y: {
                position: 'right', min: 0, max: 10.5,
                afterBuildTicks: s => { s.ticks = loadTicks.map(v => ({value: v})); },
                afterFit: fixY,
                ticks: {autoSkip: false, padding: 9, labelOffset: 2, color: '#000', font: {family: '"Liberation Sans"', size: 18}, callback: v => v.toFixed(1) + '%'},
                grid: {display: false},
                border: {display: false}
            }
        }
    },
    plugins: [{
        id: 'deco',
        beforeDraw(c) {
            const ctx = c.ctx;
            ctx.save();
            ctx.fillStyle = '#fff';
            ctx.fillRect(0, 0, 3062, 304);
            ctx.fillStyle = '#f0f0f0';
            ctx.fillRect(0, 304, 3062, 5);
            ctx.fillStyle = '#000';
            ctx.fillRect(39, 304, 407, 1);
            ctx.fillRect(534, 304, 2528, 1);
            ctx.fillStyle = '#8bc34a';
            ctx.fillRect(2923, 307, 139, 2);
            ctx.restore();
        },
        afterDraw(c) { frame(c); drawWatermark(c, 1113); }
    }]
});
</script>
</body>
</html>
